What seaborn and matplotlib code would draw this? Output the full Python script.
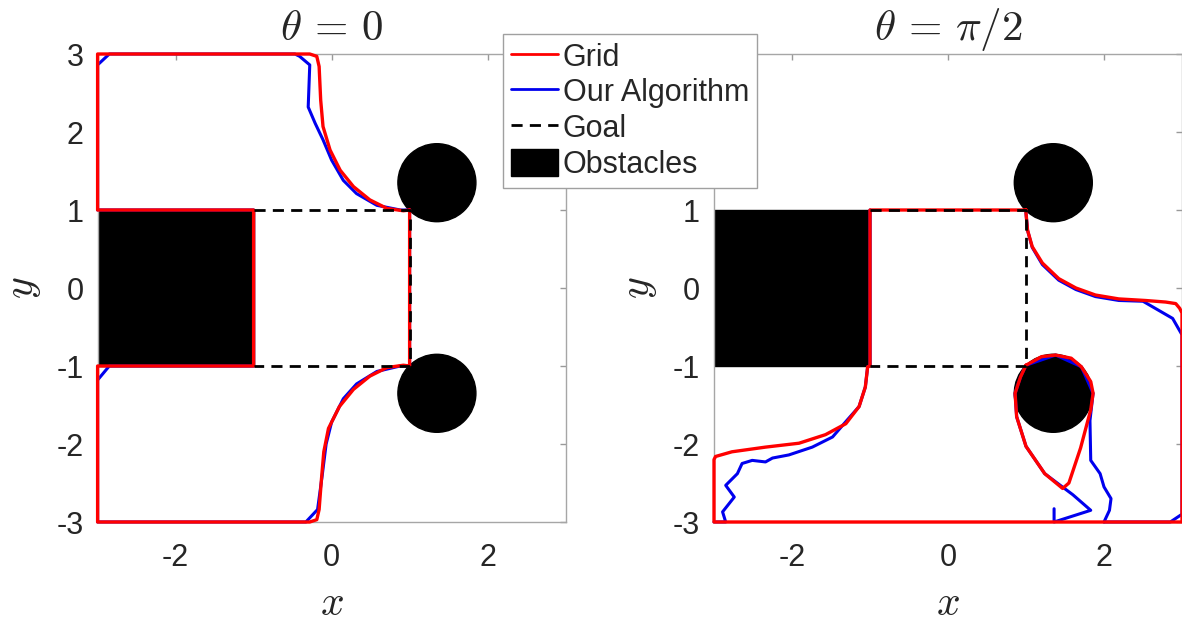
import numpy as np
import matplotlib
matplotlib.use("Agg")
import matplotlib.pyplot as plt
import seaborn as sns
from matplotlib.patches import Circle, Rectangle
from matplotlib.lines import Line2D

sns.set_style("white")
plt.rcParams["font.family"] = ["Liberation Sans", "DejaVu Sans"]
plt.rcParams["mathtext.fontset"] = "cm"
plt.rcParams["axes.unicode_minus"] = False

# obstacles / goal
rect_x, rect_y, rect_w, rect_h = -3, -1, 2, 2
circ_x = [1.35, 1.35]
circ_y = [1.35, -1.35]
circ_r = 0.5
goal_x = [-1, 1, 1, -1]
goal_y = [1, 1, -1, -1]

# theta = 0 : grid (red)
g0_x = [1.0, 0.92, 0.71, 0.49, 0.28, 0.11, -0.02, -0.11, -0.14, -0.16, -0.19, -0.28,
        -3.0, -3.0, -1.0, -1.0, -3.0, -3.0, -0.28, -0.19, -0.16, -0.13, -0.1, -0.04,
        0.1, 0.28, 0.49, 0.71, 0.92, 1.0, 1.0]
g0_y = [1.0, 0.99, 1.02, 1.13, 1.30, 1.51, 1.77, 2.07, 2.41, 2.84, 2.97, 3.0,
        3.0, 1.0, 1.0, -1.0, -1.0, -3.0, -3.0, -2.97, -2.84, -2.45, -2.1, -1.8,
        -1.52, -1.30, -1.13, -1.02, -0.99, -1.0, 1.0]
# theta = 0 : our algorithm (blue)
a0_x = [1.0, 0.88, 0.58, 0.32, 0.15, 0.0, -0.11, -0.21, -0.30, -0.28, -0.41, -0.47,
        -2.85, -3.0, -3.0, -1.0, -1.0, -2.85, -3.0, -3.0, -0.33, -0.18, -0.12,
        -0.07, 0.0, 0.15, 0.32, 0.58, 0.88, 1.0, 1.0]
a0_y = [1.0, 1.0, 1.06, 1.21, 1.38, 1.64, 1.90, 2.11, 2.32, 2.86, 2.97, 3.0,
        3.0, 2.86, 1.0, 1.0, -1.0, -1.0, -1.18, -3.0, -3.0, -2.84, -2.4,
        -2.0, -1.72, -1.42, -1.23, -1.07, -1.0, -1.0, 1.0]

# theta = pi/2 : grid (red)
g1_x = [1.0, 1.0, 1.02, 1.08, 1.21, 1.42, 1.64, 1.89, 2.19, 2.53, 2.79, 2.92, 2.97,
        3.0, 3.0, -3.0, -3.0, -2.98, -2.77, -2.34, -1.91, -1.57, -1.31, -1.14, -1.06,
        -1.03, -1.0, -1.0, 1.0]
g1_y = [1.0, 0.96, 0.74, 0.53, 0.32, 0.12, 0.0, -0.09, -0.14, -0.16, -0.18, -0.20,
        -0.26, -0.32, -3.0, -3.0, -2.2, -2.16, -2.10, -2.04, -1.99, -1.88, -1.74,
        -1.52, -1.27, -1.01, -1.0, 1.0, 1.0]
g1_loop_x = [1.0, 1.2, 1.38, 1.58, 1.71, 1.83, 1.86, 1.83, 1.7, 1.55, 1.47, 1.24,
             1.0, 0.88, 0.86, 0.93, 1.0]
g1_loop_y = [-0.99, -0.88, -0.86, -0.9, -1.01, -1.2, -1.35, -1.56, -2.05, -2.5,
             -2.57, -2.38, -2.03, -1.65, -1.35, -1.14, -0.99]
# theta = pi/2 : our algorithm (blue)
a1_x = [1.0, 1.0, 1.02, 1.08, 1.21, 1.42, 1.64, 1.89, 2.19, 2.5, 2.88, 3.0, 3.0,
        2.85, 2.0]
a1_y = [1.0, 0.96, 0.74, 0.52, 0.30, 0.10, -0.02, -0.11, -0.16, -0.17, -0.39,
        -0.6, -2.9, -3.0, -3.0]
a1_left_x = [-1.0, -1.0, -1.03, -1.06, -1.14, -1.29, -1.48, -1.74, -2.04, -2.25, -2.34,
             -2.51, -2.64, -2.70, -2.85, -2.74, -2.89, -2.85, -3.0]
a1_left_y = [1.0, -1.0, -1.01, -1.27, -1.52, -1.69, -1.91, -2.04, -2.14, -2.18, -2.23,
             -2.21, -2.25, -2.38, -2.53, -2.68, -2.87, -3.0, -3.0]
a1_loop_x = [1.36, 1.36, 1.83, 1.6, 1.24, 1.0, 0.88, 0.86, 0.93, 1.0, 1.38, 1.71,
             1.86, 1.82, 1.83, 1.95, 2.0, 2.09, 2.07, 2.0]
a1_loop_y = [-2.83, -3.0, -2.85, -2.65, -2.38, -2.03, -1.65, -1.35, -1.14, -0.99,
             -0.86, -1.01, -1.35, -1.7, -2.21, -2.38, -2.55, -2.7, -2.85, -3.0]

titles = [r"$\theta \,=\, 0$", r"$\theta \,=\, \pi/2$"]
xticks = [-2, 0, 2]
yticks = [-3, -2, -1, 0, 1, 2, 3]

fig = plt.figure(figsize=(11.82, 6.25), dpi=100)
ax0 = fig.add_axes([97.6 / 1182, 103 / 625, 468 / 1182, 468 / 625])
ax1 = fig.add_axes([714 / 1182, 103 / 625, 468 / 1182, 468 / 625])

panels = [
    (ax0, [(a0_x, a0_y)], [(g0_x, g0_y)]),
    (ax1, [(a1_x, a1_y), (a1_left_x, a1_left_y), (a1_loop_x, a1_loop_y)],
     [(g1_x, g1_y), (g1_loop_x, g1_loop_y)]),
]

for i, (ax, blues, reds) in enumerate(panels):
    ax.add_patch(Rectangle((rect_x, rect_y), rect_w, rect_h, color="black", zorder=1))
    for cx, cy in zip(circ_x, circ_y):
        ax.add_patch(Circle((cx, cy), circ_r, color="black", zorder=1))
    for bx, by in blues:
        sns.lineplot(x=bx, y=by, sort=False, estimator=None, color="#0000ee",
                     lw=2.2, ax=ax, zorder=2, clip_on=False)
    for rx, ry in reds:
        sns.lineplot(x=rx, y=ry, sort=False, estimator=None, color="#ff0000",
                     lw=2.4, ax=ax, zorder=3, clip_on=False)
    ax.plot(goal_x, goal_y, color="black", lw=2.0, dashes=(4, 2.6), zorder=4)
    ax.set_xlim(-3, 3)
    ax.set_ylim(-3, 3)
    ax.set_xticks(xticks)
    ax.set_yticks(yticks)
    ax.tick_params(direction="in", length=4, width=1, color="#999999",
                   labelsize=22, labelcolor="#262626", top=True, right=True)
    ax.tick_params(axis="x", pad=15)
    ax.tick_params(axis="y", pad=10)
    for s in ax.spines.values():
        s.set_color("#a6a6a6")
        s.set_linewidth(1.0)
    ax.set_title(titles[i], fontsize=31, pad=10)
    ax.set_xlabel(r"$x$", fontsize=30, labelpad=8)
    ax.set_ylabel(r"$y$", fontsize=30, labelpad=10)

# the legend covers the top two y labels of the right panel
for lab in ax1.get_yticklabels():
    if lab.get_text() in ("2", "3"):
        lab.set_visible(False)

handles = [
    Line2D([], [], color="#ff0000", lw=2),
    Line2D([], [], color="#0000ee", lw=2),
    Line2D([], [], color="black", lw=2, dashes=(4, 2.6)),
    Rectangle((0, 0), 1, 1, color="black"),
]
labels = ["Grid", "Our Algorithm", "Goal", "Obstacles"]
leg = fig.legend(handles, labels, loc="upper left",
                 bbox_to_anchor=(503 / 1182, 1 - 34 / 625), borderaxespad=0,
                 fontsize=22, frameon=True, fancybox=False, edgecolor="#a0a0a0",
                 framealpha=1, handlelength=1.55, handleheight=1.0,
                 handletextpad=0.15, labelspacing=0.15, borderpad=0.25)
leg.get_frame().set_linewidth(1.0)

fig.savefig("out.png", dpi=100)
